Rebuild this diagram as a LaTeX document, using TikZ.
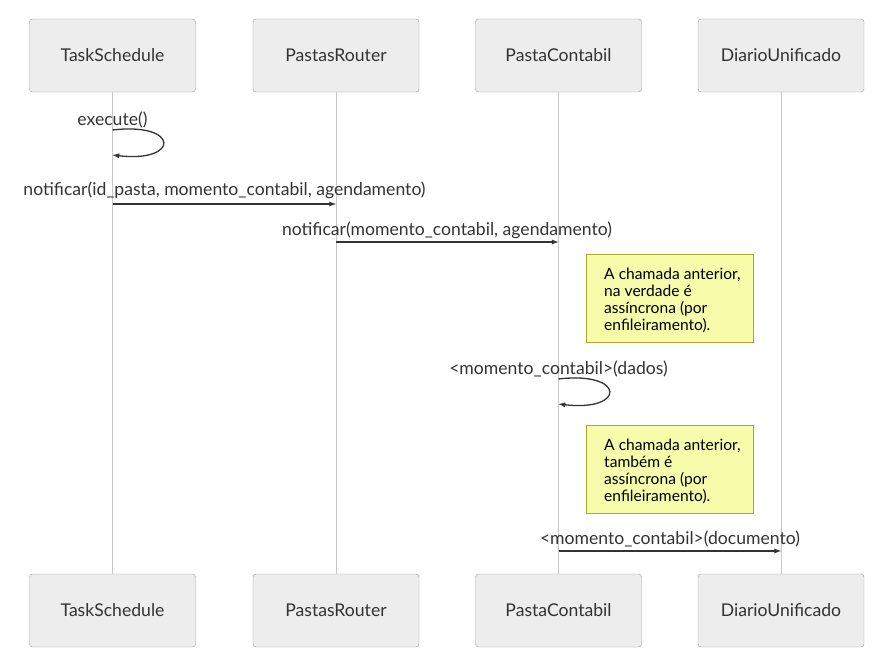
\documentclass[tikz,border=0pt]{standalone}
\usepackage{fontspec}
\setmainfont{Lato}
\usetikzlibrary{arrows}
\definecolor{eaeaea}{HTML}{EDEDED}
\definecolor{qqqqqq}{HTML}{333333}
\definecolor{aaaaaa}{HTML}{999999}
\definecolor{cccccc}{HTML}{C8C8C8}
\definecolor{ffffaa}{HTML}{F6FCA9}
\definecolor{aaaa33}{HTML}{AAAA33}
\tikzset{
  actor/.style={draw=aaaaaa,fill=eaeaea,rounded corners=3pt,minimum width=166pt,minimum height=73pt,
    font=\fontsize{17.6}{21}\selectfont,text=qqqqqq,inner sep=0pt},
  msg/.style={font=\fontsize{17.6}{21}\selectfont,text=qqqqqq,inner sep=0pt},
  nota/.style={draw=aaaa33,fill=ffffaa,minimum width=167pt,minimum height=88pt,inner sep=0pt},
  notetext/.style={font=\fontsize{15.6}{17}\selectfont,text=black,align=left,anchor=north west,inner sep=0pt},
  call/.style={->,>=latex,line width=1.3pt,color=qqqqqq}
}
\begin{document}
\begin{tikzpicture}[x=1pt,y=-1pt]
			\useasboundingbox (0,0) rectangle (891,668);
			% participantes
			\node[actor] (ts) at (112.5,55.5) {TaskSchedule};
			\node[actor] (pr) at (336,55.5) {PastasRouter};
			\node[actor] (pc) at (558.5,55.5) {PastaContabil};
			\node[actor] (du) at (781,55.5) {DiarioUnificado};
			\node[actor] (tsb) at (112.5,610.5) {TaskSchedule};
			\node[actor] (prb) at (336,610.5) {PastasRouter};
			\node[actor] (pcb) at (558.5,610.5) {PastaContabil};
			\node[actor] (dub) at (781,610.5) {DiarioUnificado};
			\draw [color=cccccc,line width=0.8pt] (ts) -- (tsb);
			\draw [color=cccccc,line width=0.8pt] (pr) -- (prb);
			\draw [color=cccccc,line width=0.8pt] (pc) -- (pcb);
			\draw [color=cccccc,line width=0.8pt] (du) -- (dub);
			% mensagens
			\node[msg] (m1) at (112.5,119.5) {execute()};
			\coordinate (a1) at (112.5,130);
			\coordinate (b1) at (112.5,155);
			\draw [call] (a1) .. controls (180,122) and (180,163) .. (b1);
			\node[msg] (m2) at (224.5,190.5) {notificar(id\_pasta, momento\_contabil, agendamento)};
			\coordinate (a2) at (112.5,204);
			\coordinate (b2) at (336,204);
			\draw [call] (a2) -- (b2);
			\node[msg] (m3) at (447,230.5) {notificar(momento\_contabil, agendamento)};
			\coordinate (a3) at (336,242);
			\coordinate (b3) at (558.5,242);
			\draw [call] (a3) -- (b3);
			\node[nota] (n1) at (669.5,298) {};
			\node[notetext] (t1) at (604,268) {A chamada anterior,\\na verdade é\\assíncrona (por\\enfileiramento).};
			\node[msg] (m4) at (558.5,368.5) {<momento\_contabil>(dados)};
			\coordinate (a4) at (558.5,379);
			\coordinate (b4) at (558.5,404);
			\draw [call] (a4) .. controls (626,371) and (626,412) .. (b4);
			\node[nota] (n2) at (669.5,469) {};
			\node[notetext] (t2) at (604,439) {A chamada anterior,\\também é\\assíncrona (por\\enfileiramento).};
			\node[msg] (m5) at (670,538.5) {<momento\_contabil>(documento)};
			\coordinate (a5) at (558.5,551);
			\coordinate (b5) at (781,551);
			\draw [call] (a5) -- (b5);
		\end{tikzpicture}
\end{document}
